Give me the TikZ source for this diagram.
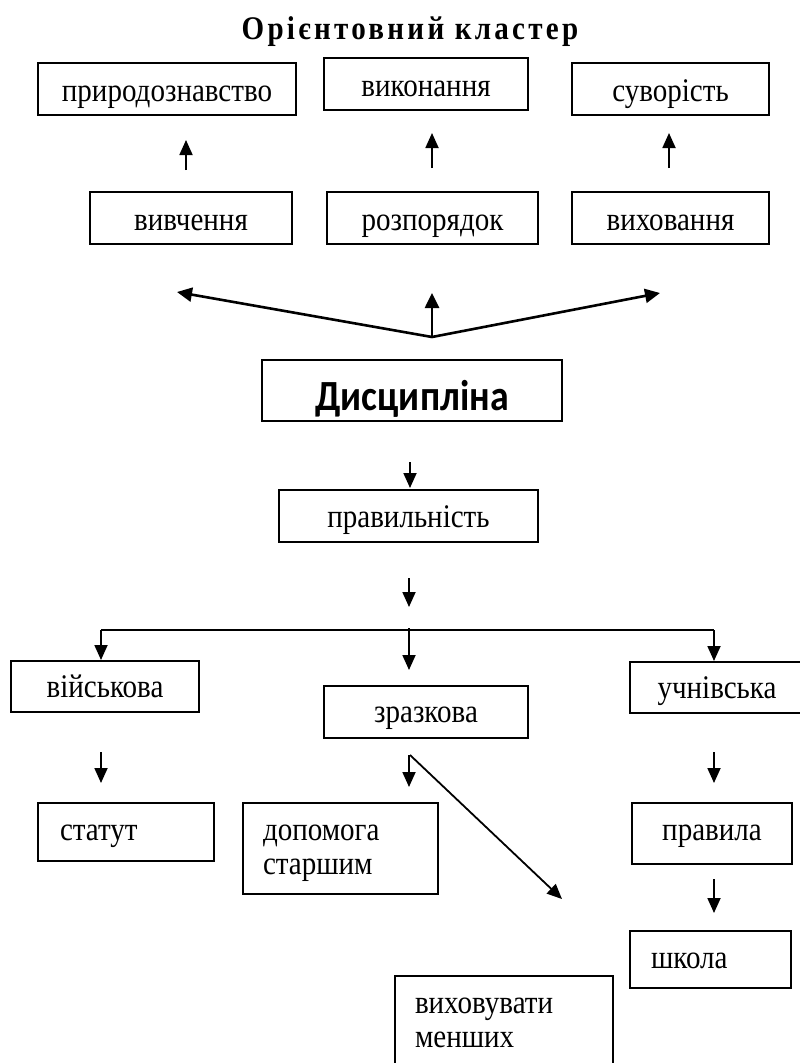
\documentclass[tikz,border=0pt]{standalone}
\usepackage{fontspec}
\setmainfont{Liberation Serif}[FakeStretch=0.88]
\newfontfamily\calib{Carlito}[FakeStretch=0.88]
\usetikzlibrary{arrows.meta}
\tikzset{
  box/.style={draw, line width=1.6pt, inner sep=0pt, text height=27pt, text depth=3pt, font=\fontsize{33}{34}\selectfont},
  lbox/.style={box, align=left},
  arr/.style={line width=1.8pt, -{Triangle[length=15pt,width=13pt]}},
  fan/.style={line width=2.6pt, -{Triangle[length=15pt,width=14pt]}},
  plain/.style={line width=1.8pt}
}
\begin{document}
\begin{tikzpicture}[x=1pt,y=-1pt]
\useasboundingbox (0,0) rectangle (800,1063);
\clip (0,0) rectangle (800,1063);
% title
\node[anchor=base, inner sep=0pt, font={\fontsize{33}{34}\selectfont\bfseries\addfontfeature{LetterSpace=10}}] (title) at (410,39) {Орієнтовний кластер};
% top boxes
\node[box, minimum width=258pt, minimum height=52pt] (pryr) at (167,89) {природознавство};
\node[box, minimum width=204pt, minimum height=52pt] (vykon) at (426,84) {виконання};
\node[box, minimum width=197pt, minimum height=52pt] (suvor) at (670.5,89) {суворість};
\node[box, minimum width=202pt, minimum height=52pt] (vyvch) at (191,218) {вивчення};
\node[box, minimum width=211pt, minimum height=52pt] (rozp) at (432.5,218) {розпорядок};
\node[box, minimum width=197pt, minimum height=52pt] (vykh) at (670.5,218) {виховання};
% main
\node[box, minimum width=300pt, minimum height=61pt, text height=42pt, text depth=3pt, font=\calib\bfseries\fontsize{43}{46}\selectfont] (dysc) at (412,390.5) {Дисципліна};
\node[box, minimum width=259pt, minimum height=52pt, text height=25pt, text depth=3pt] (prav) at (408.5,516) {правильність};
% level 3
\node[box, minimum width=188pt, minimum height=51pt, text height=24pt, text depth=3pt] (viysk) at (105,686.5) {військова};
\node[box, minimum width=204pt, minimum height=52pt, text height=24pt, text depth=4pt] (zrazk) at (426,712) {зразкова};
\node[box, minimum width=174pt, minimum height=51pt, text height=24pt, text depth=3pt] (uchn) at (717,687.5) {учнівська};
% level 4
\node[lbox, text width=132pt, inner xsep=22pt, minimum height=58pt, text height=24pt, text depth=8pt] (statut) at (126,832) {статут};
\node[lbox, text width=155pt, inner xsep=20pt, minimum height=91pt, text height=22pt, text depth=39pt] (dopom) at (340.5,848.5) {допомога\\старшим};
\node[box, minimum width=160pt, minimum height=61pt, text height=21pt, text depth=8pt] (pravyla) at (712,833.5) {правила};
\node[lbox, text width=119pt, inner xsep=21pt, minimum height=57pt, text height=25pt, text depth=8pt] (shkola) at (710.5,959.5) {школа};
\node[lbox, text width=178pt, inner xsep=20pt, minimum height=95pt, text height=22pt, text depth=43pt] (vykhov) at (504,1023.5) {виховувати\\менших};
% arrow coordinates
\coordinate (u1s) at (186,170); \coordinate (u1e) at (186,140);
\coordinate (u2s) at (432,168); \coordinate (u2e) at (432,133);
\coordinate (u3s) at (669,168); \coordinate (u3e) at (669,133);
\coordinate (F) at (432,337);
\coordinate (fl) at (177,292); \coordinate (fm) at (432,293); \coordinate (fr) at (660,293);
\coordinate (d1s) at (410,462); \coordinate (d1e) at (410,488);
\coordinate (d2s) at (409,578); \coordinate (d2e) at (409,607);
\coordinate (bl) at (101,630); \coordinate (br) at (714,630);
\coordinate (bms) at (409,628);
\coordinate (ble) at (101,660); \coordinate (bme) at (409,670); \coordinate (bre) at (714,661);
\coordinate (l1s) at (101,752); \coordinate (l1e) at (101,783);
\coordinate (m1s) at (409,755); \coordinate (m1e) at (409,787);
\coordinate (dgs) at (410,755); \coordinate (dge) at (562,899);
\coordinate (r1s) at (714,752); \coordinate (r1e) at (714,783);
\coordinate (r2s) at (714,879); \coordinate (r2e) at (714,913);
% arrows
\draw[arr] (u1s) -- (u1e);
\draw[arr] (u2s) -- (u2e);
\draw[arr] (u3s) -- (u3e);
\draw[fan] (F) -- (fl);
\draw[fan] (F) -- (fm);
\draw[fan] (F) -- (fr);
\draw[arr] (d1s) -- (d1e);
\draw[arr] (d2s) -- (d2e);
\draw[plain] (bl) -- (br);
\draw[arr] (bl) -- (ble);
\draw[arr] (bms) -- (bme);
\draw[arr] (br) -- (bre);
\draw[arr] (l1s) -- (l1e);
\draw[arr] (m1s) -- (m1e);
\draw[arr] (dgs) -- (dge);
\draw[arr] (r1s) -- (r1e);
\draw[arr] (r2s) -- (r2e);
\end{tikzpicture}
\end{document}
